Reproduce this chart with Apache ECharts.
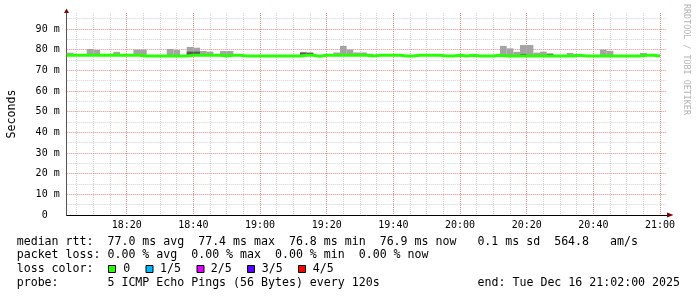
<!DOCTYPE html>
<html><head><meta charset="utf-8">
<script src="https://cdn.jsdelivr.net/npm/echarts@6/dist/echarts.min.js"></script>
<style>html,body{margin:0;padding:0;background:#fff}#c{width:697px;height:297px}</style>
</head><body><div id="c"></div>
<script>
// ---- data (minutes after 18:00; one RRD step = 2 min) ----
const stepMinutes = 2;
const startMinute = 2;      // 18:02
const endMinute = 182;      // 21:02
const xTickValues = [20, 40, 60, 80, 100, 120, 140, 160, 180];
const xTickLabels = ['18:20', '18:40', '19:00', '19:20', '19:40', '20:00', '20:20', '20:40', '21:00'];
const xMinorValues = [5,10,15,25,30,35,45,50,55,65,70,75,85,90,95,105,110,115,125,130,135,145,150,155,165,170,175];
const yTickValues = [0, 10, 20, 30, 40, 50, 60, 70, 80, 90];
const yTickLabels = ['0  ', '10 m', '20 m', '30 m', '40 m', '50 m', '60 m', '70 m', '80 m', '90 m'];
const yMinorValues = [5, 15, 25, 35, 45, 55, 65, 75, 85, 95];
const yMax = 97.7;

// median rtt (ms) per step
const median = [
  77.3,77.3,77.3,77.3,77.3,77.3,77.4,77.3,77.3,77.3,
  77.3,76.9,76.9,76.9,76.9,76.9,76.9,76.9,77.3,77.3,
  77.3,77.3,77.3,76.9,77.3,77.3,76.9,76.9,76.9,76.9,
  76.9,76.9,76.9,76.9,76.9,77.3,77.3,76.8,77.3,77.3,
  77.3,77.3,77.3,77.3,77.3,76.9,77.3,77.3,77.3,77.3,
  76.9,76.9,77.3,77.3,77.3,77.3,76.9,76.9,77.3,76.9,
  77.3,76.9,76.9,76.9,77.3,76.9,76.9,76.9,76.9,76.9,
  76.9,76.9,76.9,76.9,76.9,76.9,77.3,76.9,76.9,76.9,
  76.9,76.9,76.9,76.9,76.9,76.9,77.3,77.3,76.9
];
// 4th of 5 pings (inner smoke top, ms)
const pingHigh = [
  77.3,77.3,77.3,77.3,77.3,77.3,77.3,77.3,77.3,77.3,
  77.3,77.3,77.3,77.3,77.3,77.3,77.3,77.3,79.0,79.0,
  77.3,77.3,77.3,77.3,77.3,77.3,77.3,77.3,77.3,77.3,
  77.3,77.3,77.3,77.3,77.3,78.5,78.5,77.3,77.3,77.3,
  77.3,77.3,77.3,77.3,77.3,77.3,77.3,77.3,77.3,77.3,
  77.3,77.3,77.3,77.3,77.3,77.3,77.3,77.3,77.3,77.3,
  77.3,77.3,77.3,77.3,77.3,77.3,77.3,77.3,77.9,77.3,
  77.3,77.3,77.9,77.3,77.3,77.3,77.3,77.3,77.3,77.3,
  77.3,77.3,77.3,77.3,77.3,77.3,77.3,77.3,77.3
];
// max of 5 pings (outer smoke top, ms)
const pingMax = [
  78.5,77.4,77.4,80.3,79.8,77.4,77.4,78.9,77.4,77.4,
  80.0,80.0,77.4,77.4,77.4,80.3,79.8,77.4,81.3,80.9,
  79.3,79.0,77.4,79.3,79.3,77.4,77.4,77.4,77.4,77.4,
  77.4,77.4,77.4,77.4,77.4,78.9,78.5,77.4,77.4,77.4,
  78.6,81.8,80.0,78.6,78.6,78.0,77.4,77.4,77.4,77.4,
  77.4,77.4,77.4,77.4,77.4,77.4,77.4,77.4,77.4,77.4,
  77.4,77.4,77.4,77.4,77.4,81.8,80.6,78.9,82.2,82.2,
  78.5,79.0,78.2,77.4,77.4,78.4,77.9,77.4,77.4,77.4,
  80.0,79.4,77.4,77.4,77.4,77.4,78.4,77.4,77.4
];
const lossLabels = ['0', '1/5', '2/5', '3/5', '4/5'];
const lossColors = ['#26ff00', '#00b8ff', '#dd00ff', '#5e00ff', '#ff0000'];

const legendLine1 = 'median rtt:  77.0 ms avg  77.4 ms max  76.8 ms min  76.9 ms now   0.1 ms sd  564.8   am/s';
const legendLine2 = 'packet loss: 0.00 % avg  0.00 % max  0.00 % min  0.00 % now';
const legendLine3 = 'loss color:';
const legendLine4 = 'probe:       5 ICMP Echo Pings (56 Bytes) every 120s';
const endText = 'end: Tue Dec 16 21:02:00 2025';

// ---- build ----
const times = median.map((_, i) => startMinute + stepMinutes * (i + 1));
const smokeData = times.map((t, i) => [t, median[i], pingHigh[i], pingMax[i]]);
const lineData = [[startMinute, median[0]]].concat(times.map((t, i) => [t, median[i]]));

const MONO = '"DejaVu Sans Mono", monospace';
const smokeLight = '#a4a4a4', smokeDark = '#585858';

function renderSmoke(params, api) {
  const t = api.value(0), med = api.value(1), hi = api.value(2), mx = api.value(3);
  const children = [];
  const b = api.coord([t, med]);
  if (mx > med) {
    const a = api.coord([t - stepMinutes, mx]);
    children.push({type: 'rect', shape: {x: a[0], y: a[1], width: b[0] - a[0], height: b[1] - a[1]}, style: {fill: smokeLight}});
  }
  if (hi > med) {
    const c = api.coord([t - stepMinutes, hi]);
    children.push({type: 'rect', shape: {x: c[0], y: c[1], width: b[0] - c[0], height: b[1] - c[1]}, style: {fill: smokeDark}});
  }
  return {type: 'group', children};
}

const chart = echarts.init(document.getElementById('c'), null, {renderer: 'canvas', width: 697, height: 297});
const textStyle = (x, y, text, extra) => Object.assign({type: 'text', x, y, silent: true,
  style: Object.assign({text, fill: '#000', font: '11.6px ' + MONO, verticalAlign: 'middle', align: 'left'}, extra || {})});

const graphics = [
  textStyle(16.7, 241.5, legendLine1),
  textStyle(16.7, 255, legendLine2),
  textStyle(16.7, 268.8, legendLine3),
  textStyle(16.7, 282.5, legendLine4),
  textStyle(680, 282.5, endText, {align: 'right'}),
  {type: 'text', x: 686, y: 4, rotation: -Math.PI / 2, silent: true,
   style: {text: 'RRDTOOL / TOBI OETIKER', fill: '#b4b4b4', font: '8.4px ' + MONO, align: 'left', verticalAlign: 'middle'}},
  {type: 'polygon', silent: true, shape: {points: [[64, 13], [69, 13], [66.5, 8.5]]}, style: {fill: '#7f0000'}},
  {type: 'polygon', silent: true, shape: {points: [[667, 212.5], [667, 217.5], [673.5, 215]]}, style: {fill: '#7f0000'}}
];
const boxX = [108.5, 146, 197, 247.5, 298.5];
const labX = [123.3, 160, 210.7, 261.7, 312.7];
lossLabels.forEach((lab, i) => {
  graphics.push({type: 'rect', silent: true, shape: {x: boxX[i], y: 265.5, width: 7, height: 7},
    style: {fill: lossColors[i], stroke: '#000', lineWidth: 1}});
  graphics.push(textStyle(labX[i], 268.8, lab));
});

chart.setOption({
  animation: false,
  backgroundColor: '#ffffff',
  grid: {left: 66.7, right: 30.3, top: 13, bottom: 82, containLabel: false, outerBoundsMode: 'none'},
  xAxis: [
    {type: 'value', min: startMinute, max: endMinute, position: 'bottom', z: 0,
     axisLine: {show: false}, axisTick: {show: false, customValues: xMinorValues},
     axisLabel: {show: false, customValues: xMinorValues},
     splitLine: {show: true, lineStyle: {color: '#d2d2d2', width: 1, type: [1, 1]}}},
    {type: 'value', min: startMinute, max: endMinute, position: 'bottom', z: 1,
     axisLine: {show: true, onZero: false, lineStyle: {color: '#000', width: 1}},
     axisTick: {show: false, customValues: xTickValues},
     axisLabel: {show: true, customValues: xTickValues, margin: 5, color: '#000',
       fontFamily: MONO, fontSize: 10,
       formatter: v => xTickLabels[xTickValues.indexOf(v)] || ''},
     splitLine: {show: true, lineStyle: {color: '#e38a8a', width: 1, type: [1, 1]}}}
  ],
  yAxis: [
    {type: 'value', min: 0, max: yMax, position: 'left', z: 0,
     axisLine: {show: false}, axisTick: {show: false, customValues: yMinorValues},
     axisLabel: {show: false, customValues: yMinorValues},
     splitLine: {show: true, lineStyle: {color: '#d2d2d2', width: 1, type: [1, 1]}}},
    {type: 'value', min: 0, max: yMax, position: 'left', z: 1,
     name: 'Seconds', nameLocation: 'middle', nameRotate: 90, nameGap: 49,
     nameTextStyle: {fontFamily: MONO, fontSize: 11.6, color: '#000'},
     axisLine: {show: true, onZero: false, lineStyle: {color: '#555', width: 1}},
     axisTick: {show: false, customValues: yTickValues},
     axisLabel: {show: true, customValues: yTickValues, margin: 7, color: '#000',
       fontFamily: MONO, fontSize: 10,
       formatter: v => yTickLabels[yTickValues.indexOf(v)] || ''},
     splitLine: {show: true, lineStyle: {color: '#e38a8a', width: 1, type: [1, 1]}}}
  ],
  series: [
    {type: 'custom', name: 'smoke', xAxisIndex: 1, yAxisIndex: 1, z: 2, silent: true,
     renderItem: renderSmoke, data: smokeData, encode: {x: 0, y: [1, 2, 3]}, clip: true},
    {type: 'line', name: 'median rtt', xAxisIndex: 1, yAxisIndex: 1, z: 3, silent: true,
     step: 'start', symbol: 'none', data: lineData,
     lineStyle: {color: lossColors[0], width: 3}}
  ],
  graphic: graphics
});
</script></body></html>
